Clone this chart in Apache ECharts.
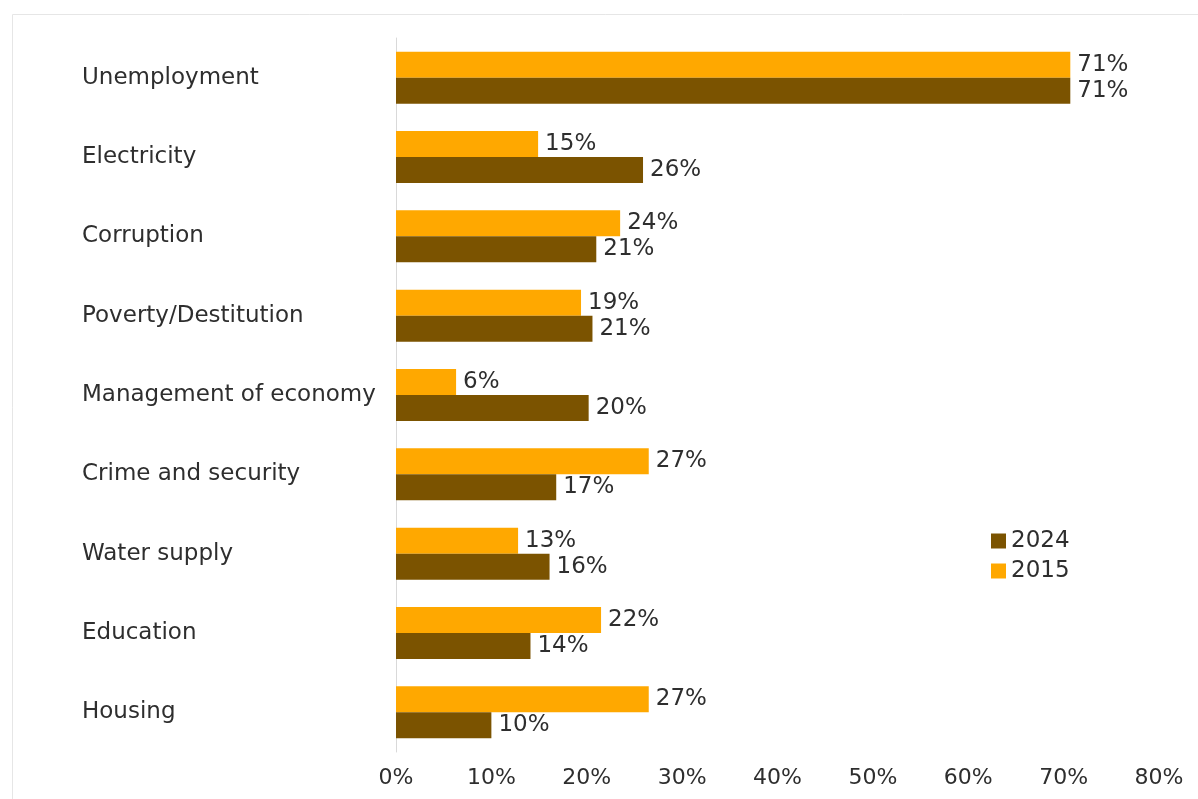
<!DOCTYPE html>
<html>
<head>
<meta charset="utf-8">
<script src="https://cdn.jsdelivr.net/npm/echarts@6/dist/echarts.min.js"></script>
<style>
html,body{margin:0;padding:0;background:#fff;}
#chart{width:1198px;height:799px;}
</style>
</head>
<body>
<div id="chart"></div>
<script>
var categories = ['Unemployment','Electricity','Corruption','Poverty/Destitution','Management of economy','Crime and security','Water supply','Education','Housing'];
var values2015 = [70.7, 14.9, 23.5, 19.4, 6.3, 26.5, 12.8, 21.5, 26.5];
var values2024 = [70.7, 25.9, 21.0, 20.6, 20.2, 16.8, 16.1, 14.1, 10.0];
var xTicks = [0, 10, 20, 30, 40, 50, 60, 70, 80];

var FONT = '"DejaVu Sans", Verdana, sans-serif';
var TXT = '#2e2e2e';

var chart = echarts.init(document.getElementById('chart'), null, {renderer:'canvas'});
var labelCfg = {
  show: true, position: 'right', distance: 7,
  color: TXT, fontSize: 23, fontFamily: FONT,
  formatter: function(p){ return Math.round(p.value) + '%'; }
};
chart.setOption({
  backgroundColor: '#ffffff',
  animation: false,
  graphic: [{
    type: 'rect', left: 10, top: 12, silent: true, z: -1,
    shape: {x: 0.5, y: 0.5, width: 1300, height: 900},
    style: {fill: 'none', stroke: '#e6e6e6', lineWidth: 1}
  }],
  legend: {
    data: ['2024', '2015'],
    orient: 'vertical', left: 991, top: 529,
    itemWidth: 15, itemHeight: 15, itemGap: 6, padding: 0,
    icon: 'rect',
    textStyle: {color: TXT, fontSize: 23, fontFamily: FONT, lineHeight: 24}
  },
  grid: {left: 396, top: 38, width: 763, height: 714, containLabel: false},
  xAxis: {
    type: 'value', min: xTicks[0], max: xTicks[xTicks.length-1], interval: 10,
    axisLine: {show: false}, axisTick: {show: false}, splitLine: {show: false},
    axisLabel: {color: TXT, fontSize: 22, fontFamily: FONT, margin: 15,
      formatter: function(v){ return v + '%'; }}
  },
  yAxis: {
    type: 'category', data: categories, inverse: true,
    axisLine: {show: true, lineStyle: {color: '#d9d9d9', width: 1}},
    axisTick: {show: false},
    axisLabel: {align: 'left', margin: 314, color: TXT, fontSize: 23, fontFamily: FONT}
  },
  series: [
    {name: '2015', type: 'bar', data: values2015, barWidth: 26, barGap: '0%',
     itemStyle: {color: '#FFA800'}, label: labelCfg},
    {name: '2024', type: 'bar', data: values2024, barWidth: 26, barGap: '0%',
     itemStyle: {color: '#7B5300'}, label: labelCfg}
  ]
});
</script>
</body>
</html>
